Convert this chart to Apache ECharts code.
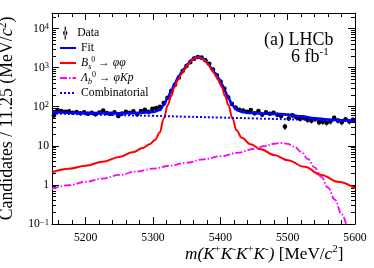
<!DOCTYPE html>
<html><head><meta charset="utf-8">
<script src="https://cdn.jsdelivr.net/npm/echarts@6/dist/echarts.min.js"></script>
<style>html,body{margin:0;padding:0;background:#fff}#c{width:374px;height:268px}</style>
</head><body><div id="c"></div>
<script>
// ---- data ----
const binLow = 5150, binWidth = 5.625;
const dataCounts = [60,82,78,74,76,70,73,68,72,66,70,64,71,80,69,66,72,58,67,74,
  70,76,64,78,83,74,88,92,100,125,170,255,370,560,820,1100,1380,1700,1880,1800,
  1550,1250,900,640,440,290,175,118,95,84,80,74,82,68,77,63,72,66,70,62,
  58,31,50,60,54,49,52,46,44,48,40,41,39,42,52,44,40,48,42,46];
const fitMass = [5150,5200,5250,5280,5300,5310,5316,5322,5327,5332,5337,5342,5347,5352,5357,5362,5367,5372,5377,5382,5387,5392,5397,5402,5407,5412,5418,5424,5432,5445,5460,5480,5490,5500,5520,5540,5560,5580,5600];
const fitValues = [72,69,68.4,70,73.5,82.5,110,170,250,380,540,740,960,1260,1560,1810,1910,1810,1560,1260,960,740,540,378,248,168,108,83,74,69,66.8,65.5,64.8,62.9,56.7,50.6,47.2,45,43.8];
const bsMass = [5150,5175,5200,5225,5250,5270,5285,5295,5303,5310,5316,5322,5327,5332,5337,5342,5347,5352,5357,5362,5367,5372,5377,5382,5387,5392,5397,5402,5407,5412,5418,5424,5432,5445,5460,5480,5500,5525,5550,5575,5600];
const bsValues = [2.1,2.6,3.1,3.9,5.2,6.8,8.8,11,14,22,50,110,190,320,480,680,900,1200,1500,1750,1850,1750,1500,1200,900,680,480,320,190,110,50,25,16,11,8.2,5.8,4.3,2.9,1.8,1.2,0.8];
const lbMass = [5150,5175,5200,5225,5250,5275,5300,5325,5350,5375,5400,5425,5450,5465,5480,5490,5500,5510,5520,5530,5540,5550,5560,5570,5580,5588];
const lbValues = [0.80,0.98,1.2,1.45,1.8,2.2,2.6,3.1,3.7,4.5,5.4,6.6,8.3,9.8,11.3,11.8,11.2,9.5,7.0,4.6,2.8,1.6,0.85,0.42,0.18,0.085];
const combMass = [5150,5200,5250,5300,5350,5400,5450,5500,5550,5600];
const combValues = [67,64,61,58.4,55.5,52.8,50.2,47.7,45.3,43];
const xTicks = [5200,5300,5400,5500,5600];
const xMinorTicks = [5160,5180,5220,5240,5260,5280,5320,5340,5360,5380,5420,5440,5460,5480,5520,5540,5560,5580];
const yTicks = [0.1,1,10,100,1000,10000];
const yMinorTicks = [0.2,0.3,0.4,0.5,0.6,0.7,0.8,0.9,2,3,4,5,6,7,8,9,20,30,40,50,60,70,80,90,
  200,300,400,500,600,700,800,900,2000,3000,4000,5000,6000,7000,8000,9000,20000];

const FF = 'Liberation Serif';
const pair = (xs, ys) => xs.map((x, i) => [x, ys[i]]);
const dataPts = dataCounts.map((v, i) => {
  const x = binLow + binWidth * (i + 0.5);
  const e = Math.sqrt(v);
  return [x, v, v - e, v + e];
});
const black = '#000';
const XMIN = 5150, XMAX = 5600, YMIN = 0.1, YMAX = 25000;

const richBase = {
  i: {fontFamily: FF, fontStyle: 'italic', fontSize: 11.7, color: black, lineHeight: 15},
  sup: {fontFamily: FF, fontSize: 8, color: black, verticalAlign: 'top', lineHeight: 8},
  sub: {fontFamily: FF, fontStyle: 'italic', fontSize: 8, color: black, verticalAlign: 'bottom', lineHeight: 8}
};
const legendLabels = {
  'Data': ' Data',
  'Fit': 'Fit',
  'Bs': '{i|B}{sub|s}{sup|0} → {i|φφ}',
  'Lb': '{i|Λ}{sub|b}{sup|0} → {i|φKp}',
  'Comb': 'Combinatorial'
};
const legendNames = ['Data','Fit','Bs','Lb','Comb'];
const legendTops = [25.5, 40.5, 55.5, 70.5, 85.5];
const legends = legendNames.map((n, i) => ({
  data: n === 'Data'
    ? [{name: n, icon: 'path://M4.4,0h1.2v14h-1.2z M5,4.6a2.4,2.4 0 1,0 0.001,0z', itemStyle: {color: black}}]
    : [{name: n, itemStyle: {opacity: 0, borderWidth: 0}}],
  orient: 'vertical',
  left: n === 'Data' ? 63 : 59,
  top: legendTops[i],
  padding: 0,
  itemWidth: n === 'Data' ? 8 : 16,
  itemHeight: n === 'Data' ? 13 : 12,
  selectedMode: false,
  formatter: name => legendLabels[name],
  textStyle: {fontFamily: FF, fontSize: 11.7, color: black, lineHeight: 15, rich: richBase}
}));

const axisLineStyle = {color: black, width: 1};
const yFmt = v => {
  const k = Math.round(Math.log10(v));
  if (k === 0) return '1';
  if (k === 1) return '10';
  return '10{sup|' + (k < 0 ? '−' : '') + Math.abs(k) + '}';
};

const chart = echarts.init(document.getElementById('c'), null, {renderer: 'canvas'});
chart.setOption({
  backgroundColor: '#fff',
  animation: false,
  grid: {left: 52, right: 19, top: 13, bottom: 44, outerBoundsMode: 'none'},
  legend: legends,
  title: [
    {text: '{i|m(K}{sup|+}{i|K}{sup|-}{i|K}{sup|+}{i|K}{sup|-}{i|)} [MeV/{i|c}{sup|2}]',
     left: 185, top: 244, padding: 0,
     textStyle: {fontFamily: FF, fontSize: 17.2, fontWeight: 'normal', color: black, lineHeight: 20,
       rich: {i: {fontFamily: FF, fontStyle: 'italic', fontSize: 17.2, color: black, lineHeight: 20},
              sup: {fontFamily: FF, fontSize: 11, color: black, verticalAlign: 'top', lineHeight: 11}}}},
    {text: '(a) LHCb', left: 264, top: 31, padding: 0,
     textStyle: {fontFamily: FF, fontSize: 18, fontWeight: 'normal', color: black}},
    {text: '6 fb{sup|-1}', left: 291, top: 47, padding: 0,
     textStyle: {fontFamily: FF, fontSize: 18, fontWeight: 'normal', color: black, lineHeight: 20,
       rich: {sup: {fontFamily: FF, fontSize: 11, color: black, verticalAlign: 'top', lineHeight: 11}}}}
  ],
  xAxis: [
    {type: 'value', min: XMIN, max: XMAX, position: 'bottom',
     axisLine: {show: true, onZero: false, lineStyle: axisLineStyle},
     axisTick: {show: true, inside: true, length: 7, customValues: xTicks, lineStyle: axisLineStyle},
     axisLabel: {customValues: xTicks, margin: 8, formatter: v => String(v), fontFamily: FF, fontSize: 11.7, color: black},
     splitLine: {show: false}},
    {type: 'value', min: XMIN, max: XMAX, position: 'bottom',
     axisLine: {show: false, onZero: false},
     axisTick: {show: true, inside: true, length: 4, customValues: xMinorTicks, lineStyle: axisLineStyle},
     axisLabel: {show: false}, splitLine: {show: false}},
    {type: 'value', min: XMIN, max: XMAX, position: 'top',
     axisLine: {show: true, onZero: false, lineStyle: axisLineStyle},
     axisTick: {show: true, inside: true, length: 7, customValues: xTicks, lineStyle: axisLineStyle},
     axisLabel: {show: false}, splitLine: {show: false}},
    {type: 'value', min: XMIN, max: XMAX, position: 'top',
     axisLine: {show: false, onZero: false},
     axisTick: {show: true, inside: true, length: 4, customValues: xMinorTicks, lineStyle: axisLineStyle},
     axisLabel: {show: false}, splitLine: {show: false}}
  ],
  yAxis: [
    {type: 'log', logBase: 10, min: YMIN, max: YMAX, position: 'left',
     axisLine: {show: true, onZero: false, lineStyle: axisLineStyle},
     axisTick: {show: true, inside: true, length: 7, customValues: yTicks, lineStyle: axisLineStyle},
     axisLabel: {customValues: yTicks, margin: 3, formatter: yFmt, fontFamily: FF, fontSize: 11.7, color: black,
       rich: {sup: {fontFamily: FF, fontSize: 8.5, color: black, verticalAlign: 'top', lineHeight: 8.5}}},
     splitLine: {show: false},
     name: 'Candidates / 11.25 (MeV/{i|c}{sup|2})', nameLocation: 'middle', nameGap: 31, nameRotate: 90,
     nameTextStyle: {fontFamily: FF, fontSize: 17.8, color: black, lineHeight: 20,
       rich: {i: {fontFamily: FF, fontStyle: 'italic', fontSize: 17.8, color: black, lineHeight: 20},
              sup: {fontFamily: FF, fontSize: 11.5, color: black, verticalAlign: 'top', lineHeight: 11.5}}}},
    {type: 'log', logBase: 10, min: YMIN, max: YMAX, position: 'left',
     axisLine: {show: false, onZero: false},
     axisTick: {show: true, inside: true, length: 4, customValues: yMinorTicks, lineStyle: axisLineStyle},
     axisLabel: {show: false}, splitLine: {show: false}},
    {type: 'log', logBase: 10, min: YMIN, max: YMAX, position: 'right',
     axisLine: {show: true, onZero: false, lineStyle: axisLineStyle},
     axisTick: {show: true, inside: true, length: 7, customValues: yTicks, lineStyle: axisLineStyle},
     axisLabel: {show: false}, splitLine: {show: false}},
    {type: 'log', logBase: 10, min: YMIN, max: YMAX, position: 'right',
     axisLine: {show: false, onZero: false},
     axisTick: {show: true, inside: true, length: 4, customValues: yMinorTicks, lineStyle: axisLineStyle},
     axisLabel: {show: false}, splitLine: {show: false}}
  ],
  series: [
    {name: 'Data', type: 'custom', xAxisIndex: 0, yAxisIndex: 0, z: 2,
     itemStyle: {color: black},
     encode: {x: 0, y: 1},
     data: dataPts,
     renderItem: (params, api) => {
       const p = api.coord([api.value(0), api.value(1)]);
       const a = api.coord([api.value(0), api.value(2)]);
       const b = api.coord([api.value(0), api.value(3)]);
       return {type: 'group', children: [
         {type: 'line', shape: {x1: p[0], y1: a[1], x2: p[0], y2: b[1]}, style: {stroke: black, lineWidth: 1}},
         {type: 'circle', shape: {cx: p[0], cy: p[1], r: 2.3}, style: {fill: black}}
       ]};
     }},
    {name: 'Fit', type: 'line', xAxisIndex: 0, yAxisIndex: 0, z: 3, symbol: 'none', smooth: 0.4, smoothMonotone: 'x',
     lineStyle: {color: '#0000ff', width: 2.6}, itemStyle: {color: '#0000ff'},
     data: pair(fitMass, fitValues)},
    {name: 'Bs', type: 'line', xAxisIndex: 0, yAxisIndex: 0, z: 4, symbol: 'none', smooth: 0.4, smoothMonotone: 'x',
     lineStyle: {color: '#ff0000', width: 2}, itemStyle: {color: '#ff0000'},
     data: pair(bsMass, bsValues)},
    {name: 'Lb', type: 'line', xAxisIndex: 0, yAxisIndex: 0, z: 4, symbol: 'none', smooth: 0.4, smoothMonotone: 'x',
     lineStyle: {color: '#ff00ff', width: 1.8, type: [7, 2, 1.5, 2]}, itemStyle: {color: '#ff00ff'},
     data: pair(lbMass, lbValues)},
    {name: 'Comb', type: 'line', xAxisIndex: 0, yAxisIndex: 0, z: 4, symbol: 'none', smooth: 0.4,
     lineStyle: {color: '#0000ff', width: 2, type: [2, 2]}, itemStyle: {color: '#0000ff'},
     data: pair(combMass, combValues)}
  ]
});
</script></body></html>
